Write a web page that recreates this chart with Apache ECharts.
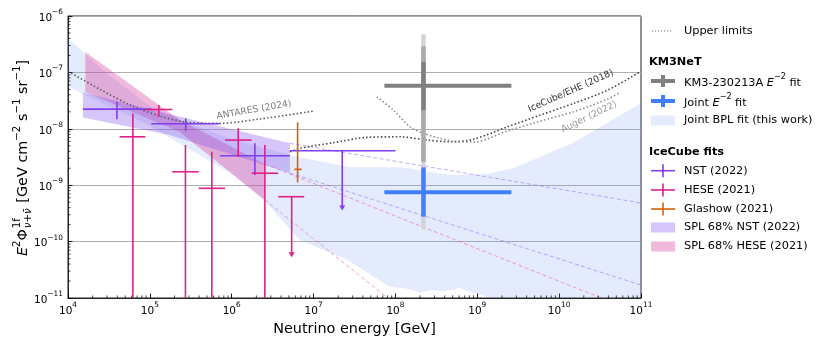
<!DOCTYPE html>
<html><head><meta charset="utf-8">
<script src="https://cdn.jsdelivr.net/npm/echarts@6/dist/echarts.min.js"></script>
<style>html,body{margin:0;padding:0;background:#fff}#c{width:830px;height:346px}</style>
</head><body><div id="c"></div>
<script>
// ---------------- DATA ----------------
const X_MIN = 1e4, X_MAX = 1e11, Y_MIN = 1e-11, Y_MAX = 1e-6;

// Upper-limit curves (dotted)
const antaresE = [1e4, 2.43e4, 6.17e4, 1.32e5, 2.80e5, 7.14e5, 2.20e6, 9.9e6];
const antaresF = [1.05e-7, 5.05e-8, 2.52e-8, 1.68e-8, 1.31e-8, 1.25e-8, 1.49e-8, 2.06e-8];
const eheE = [5.14e6, 6.82e6, 1.73e7, 4.50e7, 1.14e8, 2.44e8, 4.67e8, 8.91e8, 2.33e9, 5.90e9, 1.50e10, 3.90e10, 1e11];
const eheF = [3.92e-9, 4.50e-9, 5.65e-9, 7.05e-9, 7.21e-9, 6.31e-9, 5.89e-9, 6.49e-9, 1.08e-8, 1.75e-8, 2.82e-8, 4.84e-8, 1.05e-7];
const augerE = [5.92e7, 9.46e7, 1.51e8, 2.20e8, 3.55e8, 5.65e8, 8.93e8, 2.33e9, 5.90e9, 1.50e10, 3.90e10, 5.62e10];
const augerF = [3.68e-8, 2.14e-8, 1.08e-8, 8.30e-9, 6.76e-9, 5.89e-9, 5.82e-9, 9.12e-9, 1.37e-8, 2.00e-8, 3.36e-8, 4.47e-8];

// Joint BPL fit band (upper / lower edges)
const bplUpE = [1e4, 3.16e4, 1e5, 3.16e5, 1e6, 3.16e6, 5.14e6, 2.82e7, 1.15e8, 4.68e8, 1.32e9, 2.75e9, 1.48e10, 1e11];
const bplUpF = [3.98e-7, 9.0e-8, 2.5e-8, 1.20e-8, 6.61e-9, 4.17e-9, 3.39e-9, 2.09e-9, 2.09e-9, 1.51e-9, 1.58e-9, 2.0e-9, 5.62e-9, 2.88e-8];
const bplLoE = [1e4, 1e5, 1e6, 2.51e6, 6.76e6, 2.57e7, 8.51e7, 1.51e8, 2.0e8, 2.63e8, 4.07e8, 6.17e8, 8.13e8, 1.55e9, 1e11];
const bplLoF = [5.62e-8, 1.12e-8, 1.58e-9, 5.37e-10, 1.07e-10, 4.79e-11, 1.58e-11, 1.45e-11, 1.23e-11, 1.38e-11, 1.32e-11, 1.51e-11, 1.29e-11, 1e-11, 5e-12];

// SPL 68% bands
const nstBandE = [1.52e4, 1.75e5, 5.14e6];
const nstBandTop = [4.41e-8, 1.82e-8, 5.52e-9];
const nstBandBot = [1.59e-8, 7.74e-9, 1.64e-9];
const heseBandE = [1.63e4, 2.32e5, 2.54e6];
const heseBandTop = [2.31e-7, 1.43e-8, 2.37e-9];
const heseBandBot = [4.47e-8, 8.75e-9, 5.47e-10];

// Extrapolated SPL edges (dashed)
const nstDashE = [5.14e6, 1e11];
const nstDashUp = [5.52e-9, 4.84e-10];
const nstDashLo = [1.64e-9, 1.70e-11];
const heseDashUpE = [2.54e6, 1e11];
const heseDashUp = [2.37e-9, 5.25e-12];
const heseDashLoE = [2.54e6, 1e8];
const heseDashLo = [5.47e-10, 7.76e-12];

// Segmented fits: [E, Emin, Emax, flux, fluxLow, fluxHigh]
const nstPoints = [
  [3.96e4, 1.52e4, 1.04e5, 2.23e-8, 1.47e-8, 3.01e-8],
  [2.74e5, 1.04e5, 7.15e5, 1.23e-8, 9.23e-9, 1.53e-8],
  [1.92e6, 7.15e5, 5.14e6, 3.33e-9, 1.52e-9, 5.52e-9]
];
// Upper limits: [E, Emin, Emax, flux, arrowTip]
const nstLimits = [[2.24e7, 5.14e6, 1e8, 4.08e-9, 3.55e-10]];
const hesePoints = [
  [6.21e4, 4.27e4, 8.81e4, 7.21e-9, 1e-12, 1.87e-8],
  [1.29e5, 8.81e4, 1.88e5, 2.20e-8, 1.63e-8, 2.63e-8],
  [2.72e5, 1.88e5, 3.95e5, 1.73e-9, 1e-12, 5.15e-9],
  [5.71e5, 3.95e5, 8.30e5, 8.81e-10, 1e-12, 3.92e-9],
  [1.20e6, 8.30e5, 1.75e6, 6.31e-9, 3.19e-9, 1.02e-8],
  [2.54e6, 1.75e6, 3.70e6, 1.63e-9, 1e-12, 5.15e-9]
];
const heseLimits = [[5.40e6, 3.70e6, 7.69e6, 6.25e-10, 5.30e-11]];
const glashowPoints = [[6.38e6, 5.81e6, 7.15e6, 1.91e-9, 1.12e-9, 1.30e-8]];

// KM3-230213A E^-2 fit: [E, Emin, Emax, flux, lo1, hi1, lo2, hi2, lo3, hi3]
const km3Point = [[2.20e8, 7.33e7, 2.61e9, 5.77e-8, 2.14e-8, 1.53e-7, 2.61e-9, 2.91e-7, 1.66e-10, 4.74e-7]];
// Joint E^-2 fit: [E, Emin, Emax, flux, lo, hi]
const jointPoint = [[2.20e8, 7.33e7, 2.61e9, 7.48e-10, 2.77e-10, 2.07e-9]];

// ---------------- STYLE ----------------
const FAM = '"DejaVu Sans", sans-serif';
const C_NST = '#7f3fef', C_HESE = '#e0218a', C_GLA = '#d95f02';
const C_KM3 = '#808080', C_JOINT = '#4080ff';
const F_BPL = 'rgba(95,135,245,0.17)';
const F_NST = 'rgba(130,80,235,0.33)';
const F_HESE = 'rgba(215,50,150,0.34)';

const chart = echarts.init(document.getElementById('c'), null, {renderer: 'canvas'});
const pair = (xs, ys) => xs.map((x, i) => [x, ys[i]]);
const clampY = v => Math.min(Math.max(v, Y_MIN), Y_MAX);

function polyBand(name, eTop, fTop, eBot, fBot, fill, z) {
  return {
    name, type: 'custom', z, silent: true, data: [[eTop[0], fTop[0]]], encode: {x: 0, y: 1},
    renderItem(params, api) {
      const pts = [];
      for (let i = 0; i < eTop.length; i++) pts.push(api.coord([eTop[i], clampY(fTop[i])]));
      for (let i = eBot.length - 1; i >= 0; i--) pts.push(api.coord([eBot[i], clampY(fBot[i])]));
      return {type: 'polygon', shape: {points: pts}, style: {fill}};
    }
  };
}
function lineSer(name, xs, ys, color, width, dash, z, smooth) {
  return {
    name, type: 'line', z, data: pair(xs, ys), showSymbol: false, symbol: 'none', silent: true,
    smooth: smooth || false, clip: true,
    lineStyle: {color, width, type: dash}
  };
}
function seg(a, b, stroke, lw) {
  return {type: 'line', shape: {x1: a[0], y1: a[1], x2: b[0], y2: b[1]}, style: {stroke, lineWidth: lw}};
}
function errSer(name, rows, color, lw, z) {
  return {
    name, type: 'custom', z, data: rows, encode: {x: 0, y: 3}, silent: true,
    renderItem(params, api) {
      const E = api.value(0), f = api.value(3);
      const a = api.coord([api.value(1), f]), b = api.coord([api.value(2), f]);
      const t = api.coord([E, clampY(api.value(5))]), d = api.coord([E, clampY(api.value(4))]);
      return {type: 'group', children: [seg(a, b, color, lw), seg(t, d, color, lw)]};
    }
  };
}
function limSer(name, rows, color, lw, z) {
  return {
    name, type: 'custom', z, data: rows, encode: {x: 0, y: 3}, silent: true,
    renderItem(params, api) {
      const E = api.value(0), f = api.value(3);
      const a = api.coord([api.value(1), f]), b = api.coord([api.value(2), f]);
      const t = api.coord([E, f]), d = api.coord([E, api.value(4)]);
      const hw = 3, hh = 5;
      return {type: 'group', children: [
        seg(a, b, color, lw),
        seg(t, [d[0], d[1] - hh + 1], color, lw),
        {type: 'polygon', shape: {points: [[d[0] - hw, d[1] - hh], [d[0] + hw, d[1] - hh], [d[0], d[1]]]}, style: {fill: color}}
      ]};
    }
  };
}
function km3Ser(rows, z) {
  return {
    name: 'KM3', type: 'custom', z, data: rows, encode: {x: 0, y: 3}, silent: true,
    renderItem(params, api) {
      const E = api.value(0), f = api.value(3);
      const p = k => api.coord([E, clampY(api.value(k))]);
      const a = api.coord([api.value(1), f]), b = api.coord([api.value(2), f]);
      return {type: 'group', children: [
        seg(p(9), p(8), '#d3d3d3', 4.5),
        seg(p(7), p(6), '#aaaaaa', 4.5),
        seg(p(5), p(4), '#808080', 4.5),
        seg(a, b, C_KM3, 4)
      ]};
    }
  };
}
function jointSer(rows, z) {
  return {
    name: 'Joint', type: 'custom', z, data: rows, encode: {x: 0, y: 3}, silent: true,
    renderItem(params, api) {
      const E = api.value(0), f = api.value(3);
      const a = api.coord([api.value(1), f]), b = api.coord([api.value(2), f]);
      const t = api.coord([E, api.value(5)]), d = api.coord([E, api.value(4)]);
      return {type: 'group', children: [seg(t, d, C_JOINT, 4.5), seg(a, b, C_JOINT, 4)]};
    }
  };
}
// minor ticks (2..9 x 10^n) drawn from the axis scales
const minorX = [], minorY = [];
for (let e = 4; e < 11; e++) for (let m = 2; m <= 9; m++) minorX.push([m * Math.pow(10, e), Y_MIN]);
for (let e = -11; e < -6; e++) for (let m = 2; m <= 9; m++) minorY.push([X_MIN, m * Math.pow(10, e)]);
function minorSer(data, isX) {
  return {
    name: 'minor', type: 'custom', z: 10, data, encode: {x: 0, y: 1}, silent: true,
    renderItem(params, api) {
      const p = api.coord([api.value(0), api.value(1)]);
      const L = 2.6;
      return isX ? seg([p[0], p[1]], [p[0], p[1] - L], '#000', 0.7)
                 : seg([p[0], p[1]], [p[0] + L, p[1]], '#000', 0.7);
    }
  };
}

function expLabel(v) {
  const e = Math.round(Math.log10(v));
  return '{b|10}{s|' + (e < 0 ? '\u2212' : '') + Math.abs(e) + '}';
}
const tickRich = {
  b: {fontSize: 10.5, fontFamily: FAM, color: '#000', verticalAlign: 'bottom', lineHeight: 15},
  s: {fontSize: 7.4, fontFamily: FAM, color: '#000', verticalAlign: 'top', lineHeight: 15}
};

const DOT = [1.5, 2.2];
const series = [
  polyBand('bpl', bplUpE, bplUpF, bplLoE, bplLoF, F_BPL, 1),
  polyBand('heseBand', heseBandE, heseBandTop, heseBandE, heseBandBot, F_HESE, 2),
  polyBand('nstBand', nstBandE, nstBandTop, nstBandE, nstBandBot, F_NST, 2),
  lineSer('nstDashUp', nstDashE, nstDashUp, 'rgba(150,110,240,0.65)', 0.9, [4, 2.5], 3),
  lineSer('nstDashLo', nstDashE, nstDashLo, 'rgba(150,110,240,0.65)', 0.9, [4, 2.5], 3),
  lineSer('heseDashUp', heseDashUpE, heseDashUp, 'rgba(235,90,165,0.65)', 0.9, [4, 2.5], 3),
  lineSer('heseDashLo', heseDashLoE, heseDashLo, 'rgba(235,90,165,0.65)', 0.9, [4, 2.5], 3),
  lineSer('ANTARES', antaresE, antaresF, '#5a5a5a', 1.6, DOT, 4, 0.3),
  lineSer('EHE', eheE, eheF, '#444444', 1.6, DOT, 4, 0.3),
  lineSer('Auger', augerE, augerF, '#8c8c8c', 1.6, DOT, 4, 0.3),
  errSer('NST', nstPoints, C_NST, 1.6, 6),
  limSer('NSTlim', nstLimits, C_NST, 1.6, 6),
  errSer('HESE', hesePoints, C_HESE, 1.6, 6),
  limSer('HESElim', heseLimits, C_HESE, 1.6, 6),
  errSer('Glashow', glashowPoints, C_GLA, 1.6, 6),
  km3Ser(km3Point, 7),
  jointSer(jointPoint, 8),
  minorSer(minorX, true),
  minorSer(minorY, false)
];

// ---------- y-axis title (mathtext-like) ----------
const mctx = document.createElement('canvas').getContext('2d');
function tw(t, font) { mctx.font = font; return mctx.measureText(t).width; }
const FS = 14.4, SS = 10.2;
const fN = `${FS}px ${FAM}`, fI = `italic ${FS}px ${FAM}`, fS = `${SS}px ${FAM}`, fSI = `italic ${SS}px ${FAM}`;
const pieces = [
  {t: 'E', font: fI, dy: 0},
  {t: '2', font: fS, dy: -6},
  {t: '\u03A6', font: fN, dy: 0, pad: 1},
  {stack: [{t: '1f', font: fS, dy: -6}, {t: '\u03BD+\u03BD\u0304', font: fSI, dy: 5}]},
  {t: ' [GeV cm', font: fN, dy: 0},
  {t: '\u22122', font: fS, dy: -6},
  {t: ' s', font: fN, dy: 0},
  {t: '\u22121', font: fS, dy: -6},
  {t: ' sr', font: fN, dy: 0},
  {t: '\u22121', font: fS, dy: -6},
  {t: ']', font: fN, dy: 0}
];
const yKids = []; let cx = 0;
pieces.forEach(p => {
  if (p.stack) {
    let w = 0;
    p.stack.forEach(s => { yKids.push({x: cx, y: s.dy, t: s.t, font: s.font}); w = Math.max(w, tw(s.t, s.font)); });
    cx += w + 1;
  } else {
    yKids.push({x: cx, y: p.dy, t: p.t, font: p.font});
    cx += tw(p.t, p.font) + (p.pad || 0);
  }
});
const yTotal = cx;
const yTitle = {
  type: 'group', x: 23, y: 158, rotation: Math.PI / 2,
  children: yKids.map(k => ({type: 'text', x: k.x - yTotal / 2, y: k.y,
    style: {text: k.t, font: k.font, fill: '#000', align: 'left', verticalAlign: 'middle'}}))
};

// ---------- legend (graphic) ----------
const LX0 = 651, LX1 = 675, LXM = 663, TX = 684;
const LFS = 11.3;
function ltext(t, y, bold) {
  return {type: 'text', x: bold ? 649 : TX, y, style: {text: t, fontFamily: FAM, fontSize: LFS, fontWeight: bold ? 'bold' : 'normal', fill: '#000', align: 'left', verticalAlign: 'middle'}};
}
function lrich(t, y) {
  return {type: 'text', x: TX, y, style: {text: t, fill: '#000', align: 'left', verticalAlign: 'middle',
    rich: {n: {fontFamily: FAM, fontSize: LFS, verticalAlign: 'bottom', lineHeight: 16},
           i: {fontFamily: FAM, fontSize: LFS, fontStyle: 'italic', verticalAlign: 'bottom', lineHeight: 16},
           s: {fontFamily: FAM, fontSize: 8, verticalAlign: 'top', lineHeight: 16}}}};
}
function lline(x1, y1, x2, y2, stroke, lw, dash) {
  return {type: 'line', shape: {x1, y1, x2, y2}, style: {stroke, lineWidth: lw, lineDash: dash || null}};
}
function lcross(y, color, lw, vh) {
  return [lline(LX0, y, LX1, y, color, lw), lline(LXM, y - vh, LXM, y + vh, color, lw)];
}
function lrect(y, fill) {
  return {type: 'rect', shape: {x: LX0, y: y - 5, width: LX1 - LX0, height: 10}, style: {fill}};
}
const legend = [
  lline(652, 31, 673, 31, '#777', 1.2, [1.2, 1.8]),
  ltext('Upper limits', 31),
  ltext('KM3NeT', 62, true),
  ...lcross(81, C_KM3, 4, 6), lrich('{n|KM3-230213A }{i|E}{s|\u22122}{n| fit}', 81),
  ...lcross(101, C_JOINT, 4, 6), lrich('{n|Joint }{i|E}{s|\u22122}{n| fit}', 101),
  lrect(120.5, F_BPL), ltext('Joint BPL fit (this work)', 120.5),
  ltext('IceCube fits', 152, true),
  ...lcross(170.7, C_NST, 1.6, 6.5), ltext('NST (2022)', 170.7),
  ...lcross(190, C_HESE, 1.6, 6.5), ltext('HESE (2021)', 190),
  ...lcross(209, C_GLA, 1.6, 6.5), ltext('Glashow (2021)', 209),
  lrect(227.5, F_NST), ltext('SPL 68% NST (2022)', 227.5),
  lrect(246.5, F_HESE), ltext('SPL 68% HESE (2021)', 246.5)
];
function annot(t, x, y, deg, color) {
  return {type: 'text', x, y, rotation: deg * Math.PI / 180, z: 20,
    style: {text: t, fontFamily: FAM, fontSize: 9.2, fill: color, align: 'center', verticalAlign: 'middle'}};
}
const annots = [
  annot('ANTARES (2024)', 254, 110, 10, '#7a7a7a'),
  annot('IceCube/EHE (2018)', 571, 91, 24, '#333333'),
  annot('Auger (2022)', 589, 117, 26, '#999999')
];

chart.setOption({
  animation: false,
  backgroundColor: '#fff',
  grid: {left: 68, right: 189, top: 16, bottom: 48, show: true, borderColor: '#222', borderWidth: 1, backgroundColor: 'transparent'},
  xAxis: {
    type: 'log', logBase: 10, min: X_MIN, max: X_MAX, splitNumber: 7,
    axisLine: {show: true, onZero: false, lineStyle: {color: '#222', width: 1}},
    axisTick: {show: true, inside: true, length: 4.5, lineStyle: {color: '#000', width: 0.9}},
    splitLine: {show: false},
    minorTick: {show: false},
    axisLabel: {formatter: expLabel, rich: tickRich, margin: 4, showMinLabel: true, showMaxLabel: true},
    name: 'Neutrino energy [GeV]', nameLocation: 'middle', nameGap: 22,
    nameTextStyle: {fontFamily: FAM, fontSize: 14.4, color: '#000'}
  },
  yAxis: {
    type: 'log', logBase: 10, min: Y_MIN, max: Y_MAX, splitNumber: 5,
    axisLine: {show: true, onZero: false, lineStyle: {color: '#222', width: 1}},
    axisTick: {show: true, inside: true, length: 4.5, lineStyle: {color: '#000', width: 0.9}},
    splitLine: {show: true, lineStyle: {color: '#b0b0b0', width: 1}},
    minorTick: {show: false},
    axisLabel: {formatter: expLabel, rich: tickRich, margin: 5, showMinLabel: true, showMaxLabel: true}
  },
  graphic: [yTitle, ...legend, ...annots],
  series
});
</script>
</body></html>
